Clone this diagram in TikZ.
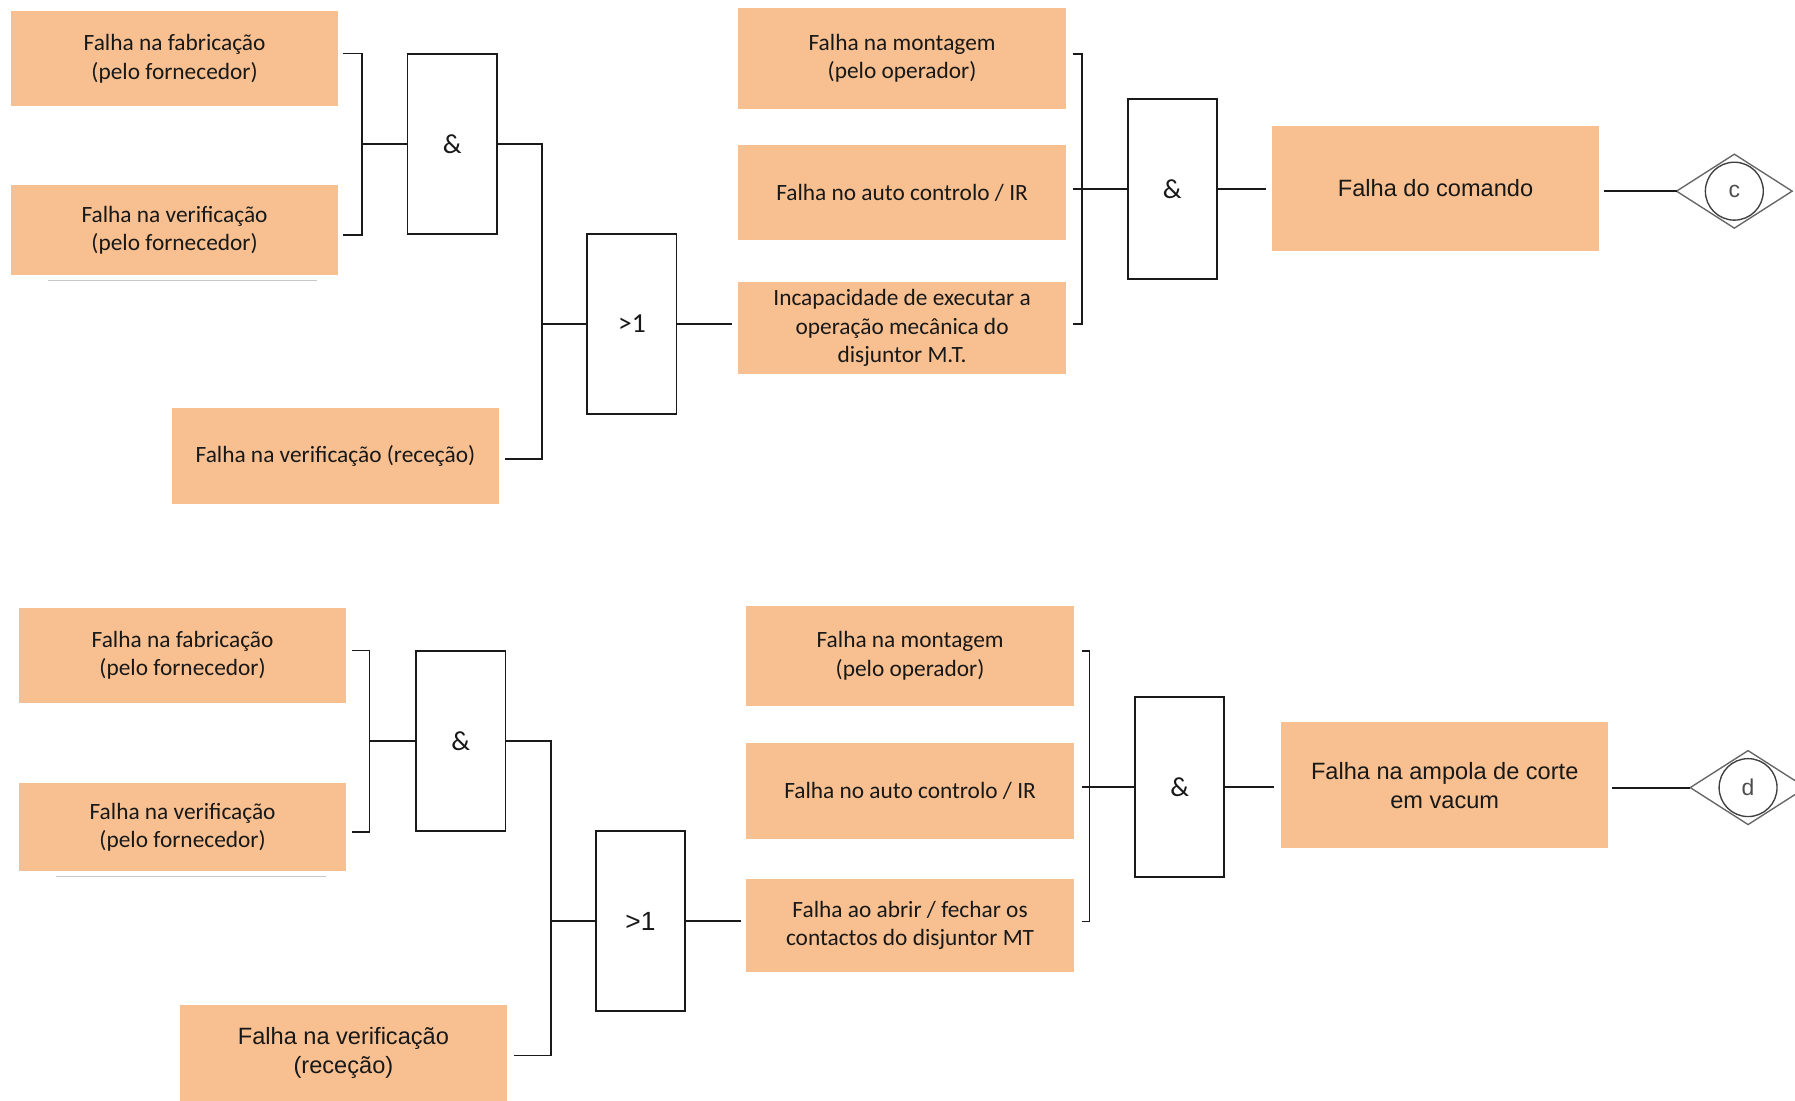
\documentclass[tikz,border=0pt]{standalone}
\usepackage{fontspec}
\setmainfont{Carlito}
\newfontfamily\calfnt{Carlito}
\newfontfamily\arlfnt{Liberation Sans}
\definecolor{evfill}{HTML}{F8C090}
\definecolor{txt}{HTML}{181818}
\definecolor{wirec}{HTML}{1A1A1A}
\begin{document}
\begin{tikzpicture}[x=0.5pt,y=-0.5pt,
  ev/.style={fill=evfill, draw=none, align=center, inner sep=0pt, text=txt,
    minimum width=143pt, font=\calfnt\fontsize{10.2pt}{12.5pt}\selectfont},
  evarial/.style={ev, font=\arlfnt\fontsize{10.3pt}{12.7pt}\selectfont},
  gate/.style={draw=wirec, line width=0.8pt, fill=white, minimum width=39pt,
    minimum height=78.5pt, inner sep=0pt, text=txt,
    font=\calfnt\fontsize{12pt}{14pt}\selectfont},
  wire/.style={line width=0.8pt, draw=wirec},
  rule/.style={line width=0.5pt, draw=black!22},
  transfer/.style={circle, draw=black!75, line width=0.6pt, minimum size=25.3pt,
    inner sep=0pt, text=black!70, font=\arlfnt\fontsize{10pt}{12pt}\selectfont},
  diam/.style={line width=0.6pt, draw=black!60}]
\useasboundingbox (0,0) rectangle (1568,961);

% ---------------- upper tree: Falha do comando ----------------
\node[ev, minimum height=41.5pt] (a1) at (152.5,51.5) {Falha na fabricação\\(pelo fornecedor)};
\node[ev, minimum height=39pt]   (a2) at (152.5,201)  {Falha na verificação\\(pelo fornecedor)};
\node[ev, minimum height=42pt]   (a3) at (293,398)    {Falha na verificação (receção)};
\draw[rule] (42,245) -- (277,245);

\node[gate] (and1) at (395,126) {\&};
\node[gate] (or1)  at (552,283) {>1};

\node[ev, minimum height=44pt]   (b1) at (788,51)    {Falha na montagem\\(pelo operador)};
\node[ev, minimum height=41.5pt] (b2) at (788,168.5) {Falha no auto controlo / IR};
\node[ev, minimum height=40.5pt] (b3) at (788,286.5) {Incapacidade de executar a\\operação mecânica do\\disjuntor M.T.};

\node[gate] (and2) at (1024,165) {\&};
\node[evarial, minimum height=54.5pt] (c1) at (1254,164.5) {Falha do comando};

\node[transfer] (tc) at (1515,167) {c};
\coordinate (tcin) at ([xshift=-25.25pt]tc.center);
\draw[diam] (tcin) -- ([yshift=16.15pt]tc.center) -- ([xshift=25.25pt]tc.center)
  -- ([yshift=-16.15pt]tc.center) -- cycle;

% connectors of the upper tree
\coordinate (br1t) at ([xshift=-28pt]and1.north west);
\coordinate (br1b) at ([xshift=-28pt]and1.south west);
\coordinate (k1)   at ([xshift=-19.5pt]and1.west);
\draw[wire] (br1t) -| (k1) |- (br1b);
\draw[wire] (k1) -- (and1.west);

\coordinate (j1)    at ([xshift=19.5pt]and1.east);
\coordinate (a3out) at ([xshift=2.5pt,yshift=-1.5pt]a3.east);
\draw[wire] (and1.east) -- (j1) |- (a3out);
\draw[wire] (j1 |- or1.west) -- (or1.west);

\coordinate (b3in) at ([xshift=-2.5pt]b3.west);
\draw[wire] (or1.east) -- (or1.east -| b3in);

\coordinate (br2t) at ([xshift=3pt,yshift=2pt]b1.east);
\coordinate (br2b) at ([xshift=3pt,yshift=1.75pt]b3.east);
\coordinate (k2)   at ([xshift=-19.5pt]and2.west);
\draw[wire] (br2t) -| (k2) |- (br2b);
\draw[wire] (br2t |- and2.west) -- (and2.west);

\coordinate (c1in)  at ([xshift=-2.5pt]c1.west);
\coordinate (c1out) at ([xshift=2pt]c1.east);
\draw[wire] (and2.east) -- (and2.east -| c1in);
\draw[wire] (c1out |- tcin) -- (tcin);

% ---------------- lower tree: Falha na ampola de corte ----------------
\node[ev, minimum height=41.5pt] (d1) at (159.5,572.5) {Falha na fabricação\\(pelo fornecedor)};
\node[ev, minimum height=38.5pt] (d2) at (159.5,722.5) {Falha na verificação\\(pelo fornecedor)};
\node[evarial, minimum height=42pt] (d3) at (300,920) {Falha na verificação\\(receção)};
\draw[rule] (49,766) -- (285,766);

\node[gate] (and3) at (402.5,647.5) {\&};
\node[gate, font=\arlfnt\fontsize{11.5pt}{13.5pt}\selectfont] (or2) at (559.5,804.5) {>1};

\node[ev, minimum height=44pt]   (e1) at (795,573)   {Falha na montagem\\(pelo operador)};
\node[ev, minimum height=42pt]   (e2) at (795,691)   {Falha no auto controlo / IR};
\node[ev, minimum height=40.5pt] (e3) at (795,808.5) {Falha ao abrir / fechar os\\contactos do disjuntor MT};

\node[gate] (and4) at (1030.5,687.5) {\&};
\node[evarial, minimum height=55pt] (f1) at (1262,686) {Falha na ampola de corte\\em vacum};

\node[transfer] (td) at (1527,688) {d};
\coordinate (tdin) at ([xshift=-25.25pt]td.center);
\draw[diam] (tdin) -- ([yshift=16.15pt]td.center) -- ([xshift=25.25pt]td.center)
  -- ([yshift=-16.15pt]td.center) -- cycle;

% connectors of the lower tree
\coordinate (br3t) at ([xshift=-27.5pt]and3.north west);
\coordinate (br3b) at ([xshift=-27.5pt]and3.south west);
\coordinate (k3)   at ([xshift=-20pt]and3.west);
\draw[wire] (br3t) -| (k3) |- (br3b);
\draw[wire] (k3) -- (and3.west);

\coordinate (j3)    at ([xshift=19.5pt]and3.east);
\coordinate (d3out) at ([xshift=3pt,yshift=-1pt]d3.east);
\draw[wire] (and3.east) -- (j3) |- (d3out);
\draw[wire] (j3 |- or2.west) -- (or2.west);

\coordinate (e3in) at ([xshift=-2pt]e3.west);
\draw[wire] (or2.east) -- (or2.east -| e3in);

\coordinate (br4t) at ([xshift=3.5pt,yshift=2pt]e1.east);
\coordinate (br4b) at ([xshift=3.5pt,yshift=1.75pt]e3.east);
\coordinate (k4)   at ([xshift=-19.5pt]and4.west);
\draw[wire] (br4t) -| (k4) |- (br4b);
\draw[wire] (br4t |- and4.west) -- (and4.west);

\coordinate (f1in)  at ([xshift=-3pt]f1.west);
\coordinate (f1out) at ([xshift=1.5pt]f1.east);
\draw[wire] (and4.east) -- (and4.east -| f1in);
\draw[wire] (f1out |- tdin) -- (tdin);
\end{tikzpicture}
\end{document}
